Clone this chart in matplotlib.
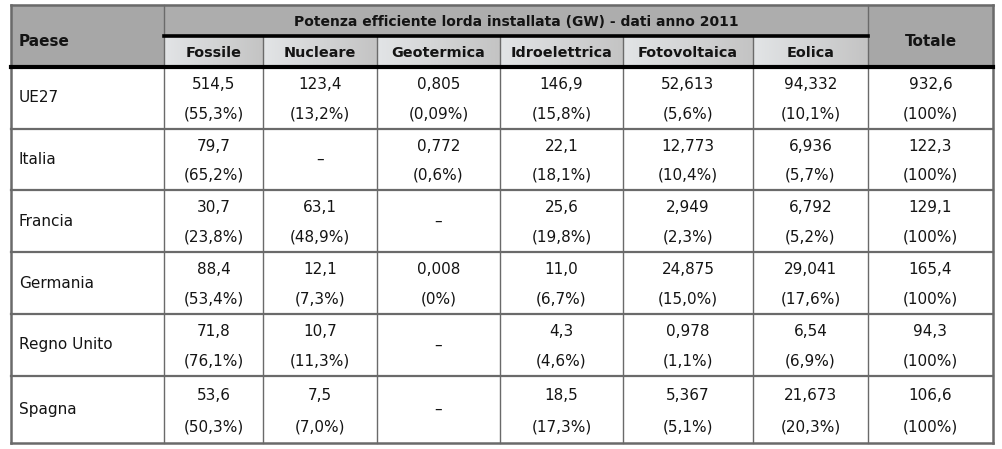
import matplotlib.pyplot as plt
import numpy as np
from matplotlib.patches import Rectangle

# Dati: potenza efficiente lorda installata (GW) - anno 2011
paesi = ['UE27', 'Italia', 'Francia', 'Germania', 'Regno Unito', 'Spagna']
fonti = ['Fossile', 'Nucleare', 'Geotermica', 'Idroelettrica', 'Fotovoltaica', 'Eolica']
valori = [
    ['514,5', '123,4', '0,805', '146,9', '52,613', '94,332'],
    ['79,7', None, '0,772', '22,1', '12,773', '6,936'],
    ['30,7', '63,1', None, '25,6', '2,949', '6,792'],
    ['88,4', '12,1', '0,008', '11,0', '24,875', '29,041'],
    ['71,8', '10,7', None, '4,3', '0,978', '6,54'],
    ['53,6', '7,5', None, '18,5', '5,367', '21,673'],
]
percentuali = [
    ['55,3%', '13,2%', '0,09%', '15,8%', '5,6%', '10,1%'],
    ['65,2%', None, '0,6%', '18,1%', '10,4%', '5,7%'],
    ['23,8%', '48,9%', None, '19,8%', '2,3%', '5,2%'],
    ['53,4%', '7,3%', '0%', '6,7%', '15,0%', '17,6%'],
    ['76,1%', '11,3%', None, '4,6%', '1,1%', '6,9%'],
    ['50,3%', '7,0%', None, '17,3%', '5,1%', '20,3%'],
]
totali = ['932,6', '122,3', '129,1', '165,4', '94,3', '106,6']
titolo = 'Potenza efficiente lorda installata (GW) - dati anno 2011'

plt.rcParams['font.family'] = ['DejaVu Sans']

# geometria in pixel
W, H = 1002, 449
xe = [11, 164, 263, 377, 500, 623, 753, 868, 993]
ye = [5, 36, 67, 129, 190, 252, 314, 376, 443]

fig = plt.figure(figsize=(W / 100, H / 100), dpi=100)
ax = fig.add_axes([0, 0, 1, 1])
ax.axis('off')

dark = '#a7a7a7'
linec = '#6a6a6a'
txt = '#141414'

# sfondi intestazione
ax.add_patch(Rectangle((xe[0], ye[0]), xe[1] - xe[0], ye[2] - ye[0], color=dark, zorder=1))
ax.add_patch(Rectangle((xe[7], ye[0]), xe[8] - xe[7], ye[2] - ye[0], color=dark, zorder=1))
ax.add_patch(Rectangle((xe[1], ye[0]), xe[7] - xe[1], ye[1] - ye[0], color='#adadad', zorder=1))
grad = np.linspace(0, 1, 50).reshape(1, -1)
cm = plt.matplotlib.colors.LinearSegmentedColormap.from_list('g', ['#e2e4e6', '#c4c4c4'])
for i in range(6):
    ax.imshow(grad, extent=(xe[i + 1], xe[i + 2], ye[2], ye[1]), aspect='auto',
              cmap=cm, zorder=1)
ax.set_xlim(0, W)
ax.set_ylim(H, 0)

# linee verticali
for i, x in enumerate(xe):
    if i in (0, len(xe) - 1):
        ax.plot([x, x], [ye[0], ye[-1]], color=linec, lw=1.8, zorder=3)
    elif i in (1, 7):
        ax.plot([x, x], [ye[0], ye[-1]], color=linec, lw=1.0, zorder=3)
    else:
        ax.plot([x, x], [ye[1], ye[-1]], color=linec, lw=1.0, zorder=3)

# linee orizzontali
ax.plot([xe[0], xe[-1]], [ye[0], ye[0]], color=linec, lw=1.8, zorder=3)
ax.plot([xe[1], xe[7]], [ye[1], ye[1]], color='black', lw=2.6, zorder=4)
ax.plot([xe[0], xe[-1]], [ye[2], ye[2]], color='black', lw=3.0, zorder=4)
for y in ye[3:-1]:
    ax.plot([xe[0], xe[-1]], [y, y], color=linec, lw=1.6, zorder=3)
ax.plot([xe[0], xe[-1]], [ye[-1], ye[-1]], color=linec, lw=1.8, zorder=3)

fs = 11
# testo intestazione
ax.text(xe[0] + 8, (ye[0] + ye[2]) / 2 + 5, 'Paese', ha='left', va='center', fontsize=fs,
        fontweight='bold', color=txt, zorder=5)
ax.text((xe[7] + xe[8]) / 2, (ye[0] + ye[2]) / 2 + 5, 'Totale', ha='center', va='center',
        fontsize=fs, fontweight='bold', color=txt, zorder=5)
ax.text((xe[1] + xe[7]) / 2, (ye[0] + ye[1]) / 2 + 1, titolo, ha='center', va='center',
        fontsize=10, fontweight='bold', color=txt, zorder=5)
for i, f in enumerate(fonti):
    ax.text((xe[i + 1] + xe[i + 2]) / 2, (ye[1] + ye[2]) / 2 + 1.5, f, ha='center',
            va='center', fontsize=10.4, fontweight='bold', color=txt, zorder=5)

# corpo tabella
for r, p in enumerate(paesi):
    y0, y1 = ye[r + 2], ye[r + 3]
    ym = (y0 + y1) / 2
    ya = y0 + (y1 - y0) * 0.29
    yb = y0 + (y1 - y0) * 0.76
    ax.text(xe[0] + 8, ym, p, ha='left', va='center', fontsize=fs, color=txt, zorder=5)
    for c in range(6):
        xc = (xe[c + 1] + xe[c + 2]) / 2
        v = valori[r][c]
        if v is None:
            ax.text(xc, ym, '–', ha='center', va='center', fontsize=fs, color=txt, zorder=5)
        else:
            ax.text(xc, ya, v, ha='center', va='center', fontsize=fs, color=txt, zorder=5)
            ax.text(xc, yb, '(' + percentuali[r][c] + ')', ha='center', va='center',
                    fontsize=fs, color=txt, zorder=5)
    xc = (xe[7] + xe[8]) / 2
    ax.text(xc, ya, totali[r], ha='center', va='center', fontsize=fs, color=txt, zorder=5)
    ax.text(xc, yb, '(100%)', ha='center', va='center', fontsize=fs, color=txt, zorder=5)

fig.savefig('out.png', dpi=100)
